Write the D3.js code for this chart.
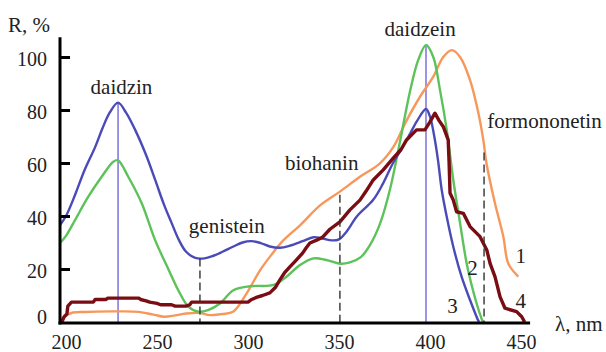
<!DOCTYPE html>
<html lang="en">
<head>
<meta charset="UTF-8">
<script src="https://d3js.org/d3.v7.min.js"></script>
<title>reflection spectra</title>
<style>
  body { margin: 0; background: #fff; }
  svg text { font-family: "Liberation Serif", "DejaVu Serif", serif; font-size: 21px; fill: #222; }
</style>
</head>
<body>
<svg width="606" height="352"></svg>
<script>
// wavelength (nm) / reflectance (%) pairs
const curve1 = [ // orange, formononetin
  [196.7,0.5],[199,2],[203,3.4],[210,3.8],[230,4],[240,3.8],[248,2.8],[254,2],[260,2.5],[266,3.2],
  [273.6,3.4],[279,2.6],[286,3],[292,4],[299,10.5],[306.6,19.5],[313,25.5],[319,30.5],[328.6,36.5],
  [339.6,44],[350.5,49.2],[361.5,54.8],[372.5,59.9],[379.8,66],[387.1,76],[394.5,85],[401.8,92.6],
  [407.3,100],[412,102.6],[416.5,100],[422,91.3],[426.6,78.8],[429.3,68.7],[431,60],[435.7,44.8],
  [440.3,32.2],[443,22.1],[448.5,17.1]
];
const curve2 = [ // green, daidzein
  [196.7,29.8],[200,32.5],[205,38.5],[212,47],[219.6,54.8],[226,60.5],[228.6,61],[234.2,54.8],[241.6,44.8],
  [248.9,31],[256.2,20],[261.7,12],[267.2,5.8],[272.7,3.9],[278,4.5],[284.6,7],[292,12],[301,13.5],
  [314,14],[321,17],[328.6,21.5],[336,24],[343,23.4],[350.5,22],[356,22.5],[362,24.5],[367,29],
  [372.5,37],[378,50],[383.5,68],[389,87],[393.6,99],[397.8,104.5],[401.8,100],[405.5,87.5],
  [409.2,72.5],[412.8,53.6],[416.5,37.4],[420.1,22.3],[423.6,12],[426.5,5],[429,0]
];
const curve3 = [ // blue
  [196.7,36.6],[200,40],[205,48],[210,57],[216,66],[220,73],[224,79],[228.6,82.8],[233,79],[238,72.5],
  [244,63],[249,53.6],[254,44],[258,37.4],[262,31],[266,26.5],[271,24.2],[276,24],[281,25],[286,26.5],
  [292,28.5],[297,30],[302,30.5],[307,29.8],[312,28.5],[317.6,28],[323,28.8],[330,30.5],[336,32],
  [341,31.5],[346,30.8],[350,31.2],[354,34],[360,40],[368.7,46],[374,52],[379.7,60],[385,66],[389,71],
  [393,76],[397.8,80.4],[400,77.5],[402.7,68.7],[404.6,60],[406.4,50],[409.2,39.7],[412.8,28.4],
  [417.4,17],[422,8.3],[426.4,0.7],[427,0]
];
const curve4 = [ // dark red, stepped
  [196.7,0],[198,0.5],[199,2],[200.5,3],[201,6],[203,7.5],[215,7.5],[216,8.5],[222,8.5],[223,9],
  [240,9],[241,8.5],[244,8],[246,7.5],[250,7],[252,6.5],[258,6.5],[260,6],[266,6],[268,6.5],[269,7.5],
  [300,7.5],[302,8.5],[305,9.4],[308,10],[312,11],[315,13],[317.6,16],[320,18.5],[323,20.8],[326,23],
  [330,26],[332,28],[334,29.8],[338,31],[341,32],[345,35],[350.5,37.8],[356,42.3],[361.5,46],[365,49.5],
  [368.8,53.6],[374.3,57.4],[379.8,61.8],[384,65],[387.1,68.7],[392.6,72.5],[397.2,72.5],[400,75.5],
  [402.7,78.8],[405,76],[407.3,73.7],[410,68.7],[410.5,60],[411,48.7],[412.8,46],[414.6,41.6],
  [418.3,41],[422,36],[427.5,32.2],[431.2,27.2],[433,22.1],[435.7,17.1],[438.5,9.5],[441.2,5.2],
  [447.6,3.9],[450.4,2],[452,0]
];

const xTicks = [200, 250, 300, 350, 400, 450];
const yTicks = [0, 20, 40, 60, 80, 100];

// compound marker lines: solid at band maxima, dashed at shoulders
const solidMarks = [{ wl: 228.6, top: 82.8 }, { wl: 397.8, top: 104.5 }];
const dashMarks = [{ wl: 273.6, top: 24 }, { wl: 350.5, top: 48 }, { wl: 429.7, top: 64 }];

const compoundLabels = [
  { text: "daidzin", wl: 213.5, r: 86 },
  { text: "genistein", wl: 267.5, r: 33.6 },
  { text: "biohanin", wl: 320.3, r: 57.4 },
  { text: "daidzein", wl: 375, r: 107.9 },
  { text: "formononetin", wl: 431.5, r: 73.2 }
];
const curveLabels = [
  { text: "1", wl: 447, r: 22.3 },
  { text: "2", wl: 420.5, r: 17.7 },
  { text: "3", wl: 409.5, r: 3.4 },
  { text: "4", wl: 447, r: 5.3 }
];

const FONT = "'Liberation Serif', 'DejaVu Serif', serif";

const svg = d3.select("svg");
const x = d3.scaleLinear().domain([200, 450]).range([66, 521]);
const y = d3.scaleLinear().domain([0, 100]).range([322, 57]);

// curves
const smooth = d3.line().x(d => x(d[0])).y(d => y(d[1])).curve(d3.curveCatmullRom.alpha(0.5));
const rough = d3.line().x(d => x(d[0])).y(d => y(d[1]));

// thin vertical lines
svg.selectAll(".solid").data(solidMarks).enter().append("line")
  .attr("x1", d => x(d.wl)).attr("x2", d => x(d.wl))
  .attr("y1", d => y(d.top)).attr("y2", y(0))
  .attr("stroke", "#5a4fd6").attr("stroke-width", 1.2);

svg.append("path").attr("d", smooth(curve1)).attr("fill", "none")
  .attr("stroke", "#f7985a").attr("stroke-width", 2.4);
svg.append("path").attr("d", smooth(curve2)).attr("fill", "none")
  .attr("stroke", "#5cc25a").attr("stroke-width", 2.4);
svg.append("path").attr("d", smooth(curve3)).attr("fill", "none")
  .attr("stroke", "#4b4bb8").attr("stroke-width", 2.4);
svg.append("path").attr("d", rough(curve4)).attr("fill", "none")
  .attr("stroke", "#7a0c14").attr("stroke-width", 3.4).attr("stroke-linejoin", "round");

svg.selectAll(".dash").data(dashMarks).enter().append("line")
  .attr("x1", d => x(d.wl)).attr("x2", d => x(d.wl))
  .attr("y1", d => y(d.top)).attr("y2", y(0))
  .attr("stroke", "#333").attr("stroke-width", 1.4).attr("stroke-dasharray", "8,4");

// axes
const yAxis = d3.axisLeft(y).tickValues(yTicks).tickSize(-10).tickPadding(13);
const gy = svg.append("g").attr("transform", "translate(60,0)").call(yAxis)
  .attr("font-family", FONT);
gy.select(".domain").remove();
gy.selectAll(".tick line").attr("stroke", "#000").attr("stroke-width", 3);
gy.selectAll(".tick text").attr("dy", "0.42em").style("font-size", "20px");
gy.selectAll(".tick").filter(d => d === 0).select("text").attr("dy", "0.05em");
gy.selectAll(".tick").filter(d => d === 0).select("line").remove();

const xAxis = d3.axisBottom(x).tickValues(xTicks).tickSize(0).tickPadding(12);
const gx = svg.append("g").attr("transform", "translate(0,323)").call(xAxis)
  .attr("font-family", FONT);
gx.select(".domain").remove();
gx.selectAll(".tick text").style("font-size", "20px");

svg.append("line").attr("x1", 60).attr("x2", 60).attr("y1", y(107.5)).attr("y2", 324.5)
  .attr("stroke", "#000").attr("stroke-width", 3);
svg.append("line").attr("x1", 58.5).attr("x2", x(455)).attr("y1", 323).attr("y2", 323)
  .attr("stroke", "#000").attr("stroke-width", 3);

// axis titles
svg.append("text").attr("x", 8).attr("y", 32).text("R, %");
svg.append("text").attr("x", 555).attr("y", 331).text("λ, nm");

// labels
svg.selectAll(".clab").data(compoundLabels.concat(curveLabels)).enter().append("text")
  .attr("x", d => x(d.wl)).attr("y", d => y(d.r)).text(d => d.text);
</script>
</body>
</html>
